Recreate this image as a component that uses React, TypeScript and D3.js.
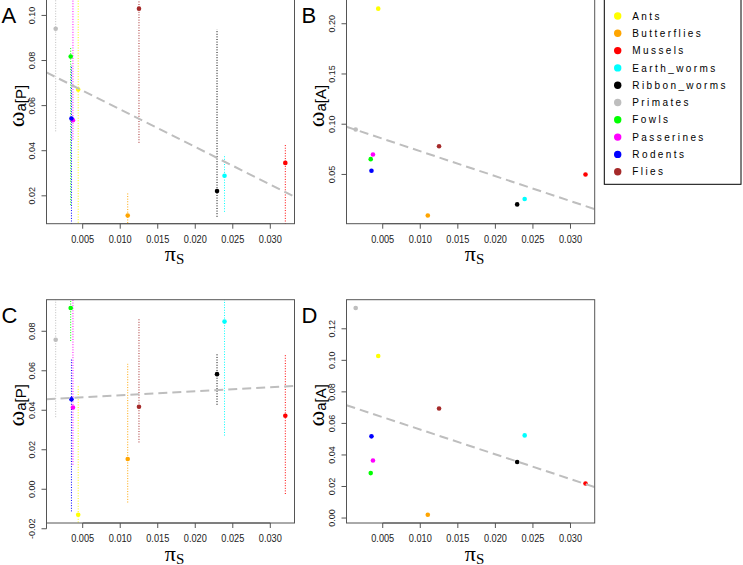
import React from "react";
import * as d3 from "d3";

const species = ["Ants", "Butterflies", "Mussels", "Earth_worms", "Ribbon_worms", "Primates", "Fowls", "Passerines", "Rodents", "Flies"];
const colors = ["#FFFF00", "#FFA500", "#FF0000", "#00FFFF", "#000000", "#BEBEBE", "#00FF00", "#FF00FF", "#0000FF", "#A52A2A"];
const piS = [0.0044, 0.0110, 0.0320, 0.0239, 0.0229, 0.0014, 0.0034, 0.0037, 0.0035, 0.0125];

// Panel A: omega_a[P] with CI
const omegaP_A = [0.0671, 0.0113, 0.0346, 0.0289, 0.0221, 0.0941, 0.0818, 0.0535, 0.0543, 0.1030];
const lowA = [0.0, 0.001, 0.004, 0.0129, 0.0107, 0.0486, 0.0159, 0.045, 0.004, 0.0435];
const highA = [0.14, 0.0211, 0.0432, 0.0383, 0.0938, 0.14, 0.086, 0.13, 0.0779, 0.16];

// Panel B: omega_a[A]
const omegaA_B = [0.215, 0.0092, 0.0500, 0.0255, 0.0202, 0.0947, 0.0652, 0.0699, 0.0536, 0.0781];

// Panel C: omega_a[P] with CI
const omegaP_C = [-0.0129, 0.0153, 0.0372, 0.0849, 0.0583, 0.0757, 0.0918, 0.0414, 0.0456, 0.0418];
const lowC = [-0.08, -0.0067, -0.0024, 0.0272, 0.0428, 0.0365, 0.0751, 0.0124, -0.0112, 0.0237];
const highC = [0.0524, 0.0635, 0.0686, 0.142, 0.0686, 0.115, 0.108, 0.105, 0.0659, 0.0863];

// Panel D: omega_a[A]
const omegaA_D = [0.1027, 0.0021, 0.0219, 0.0524, 0.0355, 0.1332, 0.0285, 0.0365, 0.0518, 0.0695];

const xTicks = [0.005, 0.010, 0.015, 0.020, 0.025, 0.030];
const xTickLabels = ["0.005", "0.010", "0.015", "0.020", "0.025", "0.030"];
const yTicksA = [0.02, 0.04, 0.06, 0.08, 0.10];
const yTickLabelsA = ["0.02", "0.04", "0.06", "0.08", "0.10"];
const yTicksB = [0.05, 0.10, 0.15, 0.20];
const yTickLabelsB = ["0.05", "0.10", "0.15", "0.20"];
const yTicksC = [-0.02, 0.0, 0.02, 0.04, 0.06, 0.08];
const yTickLabelsC = ["-0.02", "0.00", "0.02", "0.04", "0.06", "0.08"];
const yTicksD = [0.0, 0.02, 0.04, 0.06, 0.08, 0.10, 0.12];
const yTickLabelsD = ["0.00", "0.02", "0.04", "0.06", "0.08", "0.10", "0.12"];

const panelLetters = ["A", "B", "C", "D"];
const yTitleSubs = ["a[P]", "a[A]", "a[P]", "a[A]"];
const regIntercept = [0.0750, 0.0979, 0.0455, 0.0718];
const regSlope = [-1.667, -2.48, 0.206, -1.570];

const SANS = "'Liberation Sans', Arial, Helvetica, sans-serif";
const SERIF = "'Liberation Serif', 'DejaVu Serif', serif";

type Panel = {
  letter: string;
  left: number; right: number; top: number; bottom: number; boxTop: number;
  values: number[]; low?: number[]; high?: number[];
  yTicks: number[]; yLabels: string[]; sub: string;
  b0: number; b1: number;
};

const panels: Panel[] = [
  { letter: panelLetters[0], left: 46.5, right: 294.5, top: 0.4, bottom: 223.7, boxTop: -1, values: omegaP_A, low: lowA, high: highA, yTicks: yTicksA, yLabels: yTickLabelsA, sub: yTitleSubs[0], b0: regIntercept[0], b1: regSlope[0] },
  { letter: panelLetters[1], left: 346.5, right: 594.7, top: 0.4, bottom: 223.7, boxTop: -1, values: omegaA_B, yTicks: yTicksB, yLabels: yTickLabelsB, sub: yTitleSubs[1], b0: regIntercept[1], b1: regSlope[1] },
  { letter: panelLetters[2], left: 46.5, right: 294.5, top: 299.7, bottom: 523, boxTop: 299.7, values: omegaP_C, low: lowC, high: highC, yTicks: yTicksC, yLabels: yTickLabelsC, sub: yTitleSubs[2], b0: regIntercept[2], b1: regSlope[2] },
  { letter: panelLetters[3], left: 346.5, right: 594.7, top: 299.7, bottom: 523, boxTop: 299.7, values: omegaA_D, yTicks: yTicksD, yLabels: yTickLabelsD, sub: yTitleSubs[3], b0: regIntercept[3], b1: regSlope[3] },
];

function padded(vals: number[]): [number, number] {
  const [lo, hi] = d3.extent(vals) as [number, number];
  const d = hi - lo;
  return [lo - 0.04 * d, hi + 0.04 * d];
}

function PanelView({ p, idx }: { p: Panel; idx: number }) {
  const x = d3.scaleLinear().domain(padded(piS)).range([p.left, p.right]);
  const y = d3.scaleLinear().domain(padded(p.values)).range([p.bottom, p.top]);
  const [x0, x1] = x.domain();
  const clipId = `clip${idx}`;
  const line = d3.line<number>().x((v) => x(v)).y((v) => y(p.b0 + p.b1 * v));
  const axisCol = "#555";
  const cy = (p.top + p.bottom) / 2;
  const cx = (p.left + p.right) / 2;
  return (
    <g>
      <defs>
        <clipPath id={clipId}>
          <rect x={p.left} y={p.boxTop} width={p.right - p.left} height={p.bottom - p.boxTop} />
        </clipPath>
      </defs>
      {/* error bars */}
      <g clipPath={`url(#${clipId})`}>
        {p.low && p.high && species.map((s, i) => (
          <line key={s} x1={x(piS[i])} x2={x(piS[i])} y1={y(p.low![i])} y2={y(p.high![i])}
            stroke={colors[i]} strokeWidth={1} strokeDasharray="1,1.6" />
        ))}
      </g>
      {/* points */}
      {species.map((s, i) => (
        <circle key={s} cx={x(piS[i])} cy={y(p.values[i])} r={2.3} fill={colors[i]} />
      ))}
      {/* regression line */}
      <g clipPath={`url(#${clipId})`}>
        <path d={line([x0, x1]) || ""} fill="none" stroke="#BEBEBE" strokeWidth={2} strokeDasharray="9,5" />
      </g>
      {/* box */}
      <rect x={p.left} y={p.boxTop} width={p.right - p.left} height={p.bottom - p.boxTop} fill="none" stroke={axisCol} strokeWidth={1} />
      {/* x axis */}
      <line x1={x(xTicks[0])} x2={x(xTicks[xTicks.length - 1])} y1={p.bottom} y2={p.bottom} stroke={axisCol} />
      {xTicks.map((t, i) => (
        <g key={t}>
          <line x1={x(t)} x2={x(t)} y1={p.bottom} y2={p.bottom + 5} stroke={axisCol} />
          <text transform={`translate(${x(t)},${p.bottom + 18.8}) scale(0.8,1)`} textAnchor="middle" fontSize={11.5} fontFamily={SANS} fill="#222">{xTickLabels[i]}</text>
        </g>
      ))}
      {/* y axis */}
      <line x1={p.left} x2={p.left} y1={y(p.yTicks[0])} y2={y(p.yTicks[p.yTicks.length - 1])} stroke={axisCol} />
      {p.yTicks.map((t, i) => (
        <g key={t}>
          <line x1={p.left - 5} x2={p.left} y1={y(t)} y2={y(t)} stroke={axisCol} />
          <text transform={`translate(${p.left - 11.5},${y(t)}) rotate(-90)`} textAnchor="middle" fontSize={9} fontFamily={SANS} fill="#222">{p.yLabels[i]}</text>
        </g>
      ))}
      {/* titles */}
      <text transform={`translate(${p.left - 22.5},${cy - 6}) rotate(-90)`} textAnchor="middle" fill="#000">
        <tspan fontFamily={SERIF} fontSize={24}>ω</tspan>
        <tspan fontFamily={SANS} fontSize={15} dy={2}>{p.sub}</tspan>
      </text>
      <text x={cx + 4} y={p.bottom + 37.5} textAnchor="middle" fill="#000">
        <tspan fontFamily={SERIF} fontSize={22}>π</tspan>
        <tspan fontFamily={SERIF} fontSize={15} dy={3}>S</tspan>
      </text>
      <text x={p.left - 45} y={p.bottom - 200.5} fontFamily={SANS} fontSize={22} fill="#000">{p.letter}</text>
    </g>
  );
}

export default function App() {
  const legX = 604.3, legY = -0.5, legW = 136.7, legH = 184.8;
  return (
    <svg width={743} height={565} style={{ position: "absolute", left: 0, top: 0, background: "#fff" }}>
      <rect x={0} y={0} width={743} height={565} fill="#fff" />
      {panels.map((p, i) => <PanelView key={p.letter} p={p} idx={i} />)}
      <g>
        <rect x={legX} y={legY} width={legW} height={legH} fill="#fff" stroke="#000" strokeWidth={1} />
        {species.map((s, i) => (
          <g key={s}>
            <circle cx={617.7} cy={16 + i * 17.3} r={3.7} fill={colors[i]} />
            <text x={632.3} y={16 + i * 17.3 + 3.6} fontFamily={SANS} fontSize={10} letterSpacing={2.4} fill="#000">{s}</text>
          </g>
        ))}
      </g>
    </svg>
  );
}
